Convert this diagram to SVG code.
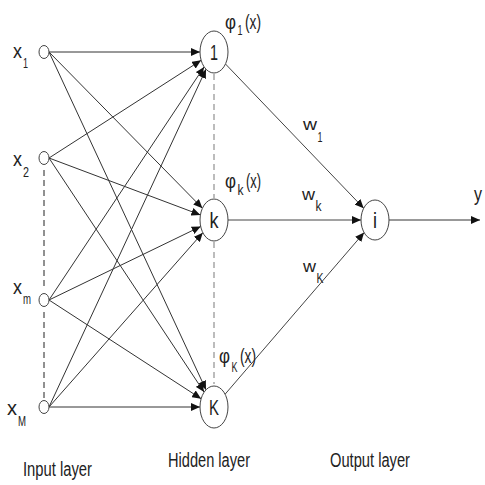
<svg xmlns="http://www.w3.org/2000/svg" width="485" height="485" viewBox="0 0 485 485">
<defs>
<marker id="ah" markerUnits="userSpaceOnUse" markerWidth="10" markerHeight="8" refX="9" refY="4" orient="auto"><path d="M0,0 L9,4 L0,8 Z" fill="#111"/></marker>
<style>
.n{fill:#fff;stroke:#444;stroke-width:1}
.c{stroke:#333;stroke-width:1;fill:none}
.o{stroke:#444;stroke-width:1;fill:none}
.d{stroke:#222;stroke-width:1;stroke-dasharray:6,4;fill:none}
.dg{stroke:#999;stroke-width:1.3;stroke-dasharray:6,4;fill:none}
text{font-family:"Liberation Sans",Arial,sans-serif;fill:#222}
.t{font-size:20px}
.h{font-size:22px}
.s{font-size:14px}
.w{font-size:16px}
.l{font-size:20px}
</style>
</defs>
<rect width="485" height="485" fill="#fff"/>
<g id="dashes">
<line class="d" x1="44" y1="170" x2="44" y2="290"/>
<line class="d" x1="44" y1="312" x2="44" y2="398"/>
<line class="dg" x1="214" y1="74" x2="214" y2="198"/>
<line class="dg" x1="214" y1="242" x2="214" y2="384"/>
</g>
<g id="connectors">
<line class="c" x1="49" y1="52" x2="200" y2="52" marker-end="url(#ah)"/>
<line class="c" x1="49" y1="158" x2="201.1" y2="60.3" marker-end="url(#ah)"/>
<line class="c" x1="49" y1="300" x2="204.1" y2="66.9" marker-end="url(#ah)"/>
<line class="c" x1="49" y1="407" x2="206" y2="69.2" marker-end="url(#ah)"/>
<line class="c" x1="49" y1="52" x2="202.4" y2="208.2" marker-end="url(#ah)"/>
<line class="c" x1="49" y1="158" x2="200.4" y2="214.9" marker-end="url(#ah)"/>
<line class="c" x1="49" y1="300" x2="200.7" y2="226.5" marker-end="url(#ah)"/>
<line class="c" x1="49" y1="407" x2="202.8" y2="232.7" marker-end="url(#ah)"/>
<line class="c" x1="49" y1="52" x2="206" y2="389.8" marker-end="url(#ah)"/>
<line class="c" x1="49" y1="158" x2="204.1" y2="392.1" marker-end="url(#ah)"/>
<line class="c" x1="49" y1="300" x2="201.1" y2="398.7" marker-end="url(#ah)"/>
<line class="c" x1="49" y1="407" x2="200" y2="407" marker-end="url(#ah)"/>
<line class="o" x1="225.5" y1="64" x2="363.7" y2="208.2" marker-end="url(#ah)"/>
<line class="o" x1="228" y1="220" x2="361" y2="220" marker-end="url(#ah)"/>
<line class="o" x1="225.1" y1="394.2" x2="364.1" y2="232.6" marker-end="url(#ah)"/>
<line class="c" x1="389" y1="220" x2="480" y2="220" marker-end="url(#ah)"/>
</g>
<g id="in1"><ellipse class="n" cx="44" cy="52" rx="5" ry="6.5"/><text class="t" x="13" y="58" textLength="9" lengthAdjust="spacingAndGlyphs">x</text><text class="s" x="23" y="68" textLength="5" lengthAdjust="spacingAndGlyphs">1</text></g>
<g id="in2"><ellipse class="n" cx="44" cy="158" rx="5" ry="6.5"/><text class="t" x="13" y="166" textLength="9" lengthAdjust="spacingAndGlyphs">x</text><text class="s" x="23" y="177" textLength="6" lengthAdjust="spacingAndGlyphs">2</text></g>
<g id="inm"><ellipse class="n" cx="44" cy="300" rx="5" ry="6.5"/><text class="t" x="13" y="294" textLength="9" lengthAdjust="spacingAndGlyphs">x</text><text class="s" x="23" y="304" textLength="8" lengthAdjust="spacingAndGlyphs">m</text></g>
<g id="inM"><ellipse class="n" cx="44" cy="407" rx="5" ry="6.5"/><text class="t" x="7" y="415" textLength="10" lengthAdjust="spacingAndGlyphs">x</text><text class="s" x="18" y="426" textLength="8" lengthAdjust="spacingAndGlyphs">M</text></g>
<g id="h1"><ellipse class="n" cx="214" cy="52" rx="14" ry="21"/><text class="h" x="214" y="60" text-anchor="middle" textLength="8" lengthAdjust="spacingAndGlyphs">1</text>
<text class="t" x="225" y="29" textLength="11" lengthAdjust="spacingAndGlyphs">φ</text><text class="s" x="237.5" y="35" textLength="5" lengthAdjust="spacingAndGlyphs">1</text><text class="t" x="245" y="29" textLength="16" lengthAdjust="spacingAndGlyphs">(x)</text></g>
<g id="hk"><ellipse class="n" cx="214" cy="220" rx="14" ry="21"/><text class="h" x="214" y="228" text-anchor="middle" textLength="9" lengthAdjust="spacingAndGlyphs">k</text>
<text class="t" x="225" y="188" textLength="11" lengthAdjust="spacingAndGlyphs">φ</text><text class="s" x="237.5" y="195" textLength="6" lengthAdjust="spacingAndGlyphs">k</text><text class="t" x="246" y="188" textLength="15" lengthAdjust="spacingAndGlyphs">(x)</text></g>
<g id="hK"><ellipse class="n" cx="214" cy="407" rx="14" ry="21"/><text class="h" x="214" y="415" text-anchor="middle" textLength="10" lengthAdjust="spacingAndGlyphs">K</text>
<text class="t" x="219" y="363" textLength="11" lengthAdjust="spacingAndGlyphs">φ</text><text class="s" x="231.5" y="372" textLength="6" lengthAdjust="spacingAndGlyphs">K</text><text class="t" x="240" y="363" textLength="16" lengthAdjust="spacingAndGlyphs">(x)</text></g>
<g id="out"><ellipse class="n" cx="375" cy="220" rx="14" ry="20"/><text class="h" x="375" y="228" text-anchor="middle" textLength="4" lengthAdjust="spacingAndGlyphs">i</text></g>
<g id="weights">
<text class="w" x="303" y="130" textLength="14" lengthAdjust="spacingAndGlyphs">w</text><text class="s" x="317.5" y="142" textLength="5" lengthAdjust="spacingAndGlyphs">1</text>
<text class="w" x="302" y="200" textLength="13" lengthAdjust="spacingAndGlyphs">w</text><text class="s" x="315.5" y="211" textLength="6" lengthAdjust="spacingAndGlyphs">k</text>
<text class="w" x="303" y="272" textLength="13" lengthAdjust="spacingAndGlyphs">w</text><text class="s" x="316.5" y="283" textLength="7" lengthAdjust="spacingAndGlyphs">K</text>
<text class="t" x="474" y="201" textLength="8" lengthAdjust="spacingAndGlyphs">y</text>
</g>
<g id="layers">
<text class="l" x="23" y="476" textLength="69" lengthAdjust="spacingAndGlyphs">Input layer</text>
<text class="l" x="168" y="467" textLength="82" lengthAdjust="spacingAndGlyphs">Hidden layer</text>
<text class="l" x="330" y="467" textLength="80" lengthAdjust="spacingAndGlyphs">Output layer</text>
</g>
</svg>
